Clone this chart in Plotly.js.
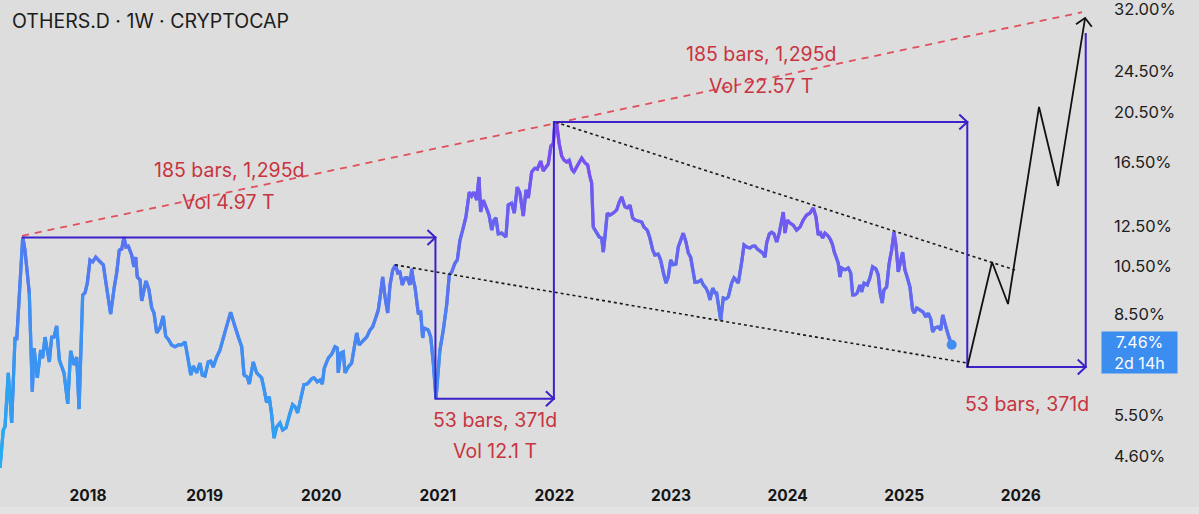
<!DOCTYPE html>
<html><head><meta charset="utf-8">
<script src="https://cdn.plot.ly/plotly-3.0.1.min.js"></script>
<style>html,body{margin:0;padding:0;background:#dddddd;}#chart{width:1199px;height:514px;}</style>
</head><body><div id="chart"></div>
<script>
// ---- OTHERS.D weekly closes (decimal year, %) ----
const dates = [
2017.245,2017.273,2017.288,2017.316,2017.345,2017.374,2017.388,2017.411,2017.440,2017.459,
2017.496,2017.522,2017.537,2017.565,2017.594,2017.611,2017.631,2017.668,2017.688,2017.708,
2017.731,2017.754,2017.794,2017.826,2017.851,2017.880,2017.903,2017.923,2017.954,2017.974,
2017.994,2018.017,2018.040,2018.066,2018.103,2018.131,2018.160,2018.194,2018.225,2018.246,
2018.268,2018.289,2018.308,2018.326,2018.345,2018.374,2018.394,2018.409,2018.422,2018.446,
2018.460,2018.480,2018.497,2018.523,2018.546,2018.566,2018.589,2018.617,2018.645,2018.666,
2018.688,2018.717,2018.746,2018.774,2018.803,2018.832,2018.860,2018.881,2018.903,2018.932,
2018.960,2018.980,2019.003,2019.031,2019.052,2019.074,2019.103,2019.132,2019.155,2019.189,
2019.223,2019.260,2019.289,2019.318,2019.338,2019.366,2019.383,2019.417,2019.446,2019.469,
2019.489,2019.509,2019.532,2019.554,2019.575,2019.595,2019.618,2019.646,2019.669,2019.698,
2019.726,2019.755,2019.775,2019.798,2019.826,2019.852,2019.880,2019.918,2019.938,2019.966,
2019.989,2020.009,2020.026,2020.061,2020.090,2020.118,2020.138,2020.146,2020.167,2020.189,
2020.204,2020.232,2020.261,2020.289,2020.304,2020.326,2020.361,2020.390,2020.418,2020.441,
2020.470,2020.489,2020.510,2020.527,2020.547,2020.570,2020.590,2020.613,2020.638,2020.656,
2020.675,2020.695,2020.718,2020.738,2020.761,2020.776,2020.789,2020.804,2020.832,2020.853,
2020.870,2020.881,2020.918,2020.939,2020.961,2020.984,2021.018,2021.047,2021.076,2021.098,
2021.119,2021.147,2021.167,2021.190,2021.213,2021.241,2021.270,2021.290,2021.310,2021.333,
2021.353,2021.367,2021.390,2021.419,2021.439,2021.462,2021.482,2021.499,2021.518,2021.547,
2021.584,2021.604,2021.633,2021.656,2021.681,2021.704,2021.733,2021.756,2021.776,2021.805,
2021.833,2021.853,2021.882,2021.904,2021.927,2021.947,2021.970,2021.990,2022.005,2022.019,
2022.041,2022.062,2022.082,2022.105,2022.127,2022.148,2022.167,2022.191,2022.213,2022.234,
2022.262,2022.285,2022.305,2022.319,2022.333,2022.362,2022.385,2022.405,2022.419,2022.434,
2022.453,2022.476,2022.505,2022.534,2022.556,2022.577,2022.605,2022.625,2022.648,2022.671,
2022.691,2022.719,2022.748,2022.768,2022.796,2022.819,2022.843,2022.862,2022.890,2022.911,
2022.933,2022.957,2022.976,2022.997,2023.019,2023.042,2023.062,2023.083,2023.105,2023.128,
2023.148,2023.168,2023.191,2023.205,2023.228,2023.257,2023.277,2023.300,2023.319,2023.334,
2023.357,2023.377,2023.391,2023.405,2023.426,2023.448,2023.471,2023.491,2023.520,2023.540,
2023.557,2023.577,2023.606,2023.626,2023.649,2023.677,2023.700,2023.720,2023.740,2023.763,
2023.786,2023.806,2023.820,2023.843,2023.863,2023.883,2023.906,2023.928,2023.963,2023.977,
2023.997,2024.020,2024.048,2024.077,2024.106,2024.134,2024.163,2024.192,2024.220,2024.243,
2024.263,2024.283,2024.300,2024.320,2024.348,2024.369,2024.386,2024.400,2024.420,2024.434,
2024.449,2024.463,2024.492,2024.520,2024.541,2024.558,2024.577,2024.597,2024.620,2024.635,
2024.655,2024.683,2024.706,2024.729,2024.757,2024.777,2024.792,2024.811,2024.826,2024.849,
2024.871,2024.892,2024.912,2024.929,2024.949,2024.963,2024.986,2025.006,2025.026,2025.049,
2025.072,2025.086,2025.106,2025.135,2025.163,2025.186,2025.206,2025.227,2025.244,2025.263,
2025.292,2025.313,2025.330,2025.349,2025.364,2025.384,2025.407];
const othersD = [
4.37,5.15,5.22,6.60,5.31,7.71,7.61,9.18,11.90,11.25,
9.34,6.08,7.35,6.46,7.29,7.04,7.71,6.92,7.71,7.71,
8.09,6.98,6.60,5.77,7.26,6.83,7.07,5.64,9.26,9.34,
9.75,10.77,10.68,10.91,10.68,10.55,9.54,8.52,9.58,10.19,
11.25,11.30,11.90,11.40,11.45,11.01,10.46,10.91,10.01,9.88,
9.02,9.46,9.84,9.46,8.75,8.56,7.85,8.02,8.45,7.74,
7.64,7.45,7.39,7.45,7.45,7.55,6.98,6.54,6.80,6.60,
6.89,6.54,6.51,6.92,6.95,6.77,7.07,7.29,7.61,8.06,
8.59,8.06,7.71,7.39,6.54,6.48,6.29,6.92,6.60,6.54,
6.46,6.18,5.80,5.95,5.50,4.97,5.22,5.31,5.15,5.20,
5.50,5.75,5.70,5.55,5.92,6.27,6.29,6.43,6.46,6.35,
6.40,6.29,6.74,7.04,7.16,7.39,7.35,6.60,7.19,7.23,
6.60,6.77,6.89,7.51,7.85,7.45,7.61,7.71,7.95,8.06,
8.41,8.67,9.34,10.01,9.18,8.56,9.67,10.32,10.55,10.19,
10.23,9.67,9.97,9.97,9.67,10.37,9.88,9.58,8.56,8.59,
7.68,8.02,7.95,7.71,6.89,5.90,7.29,7.95,8.87,10.10,
10.23,10.63,10.77,11.75,12.27,12.99,14.47,14.22,14.47,13.98,
15.45,13.27,13.98,13.39,13.10,12.27,12.82,12.93,12.06,12.11,
11.90,13.68,13.80,13.21,14.79,14.41,13.04,14.60,14.10,15.79,
16.06,15.99,16.56,15.86,16.13,16.34,17.69,17.85,19.62,19.45,
17.85,16.93,16.63,16.49,16.63,15.99,15.79,16.13,16.49,16.77,
16.42,16.28,15.45,15.06,12.43,12.11,11.90,11.85,11.15,11.90,
13.21,13.10,13.21,13.39,13.86,14.16,13.57,13.51,13.68,12.93,
12.82,12.76,12.71,12.43,12.27,11.85,11.25,11.01,11.06,10.77,
10.19,9.75,10.01,10.77,10.55,10.59,11.40,11.75,12.11,11.65,
11.11,10.91,10.23,9.79,9.79,9.88,9.67,9.54,9.34,9.06,
9.54,9.34,9.34,8.87,8.30,9.14,9.10,9.18,9.75,9.97,
9.88,9.75,10.68,11.50,11.40,11.35,11.45,11.45,11.30,11.20,
11.11,10.91,11.60,12.06,12.16,12.06,11.65,12.11,13.27,12.11,
12.82,12.65,12.54,12.27,12.43,12.82,13.10,13.21,13.51,12.99,
12.01,12.11,11.85,12.11,11.96,11.75,11.50,11.15,10.86,10.63,
10.01,10.41,10.32,10.41,10.19,9.26,9.26,9.34,9.67,9.38,
9.75,9.67,9.97,10.46,10.37,10.10,9.38,8.94,9.46,9.58,
10.63,11.25,12.16,11.50,10.23,10.63,11.15,10.32,10.01,9.58,
8.67,8.56,8.75,8.67,8.59,8.41,8.56,8.34,7.88,8.02,
8.06,7.95,8.49,8.19,7.95,7.68,7.46];

const yearTicks  = [2018,2019,2020,2021,2022,2023,2024,2025,2026];
const yearLabels = ['2018','2019','2020','2021','2022','2023','2024','2025','2026'];
const priceTicks  = [4.6,5.5,8.5,10.5,12.5,16.5,20.5,24.5,32];
const priceLabels = ['4.60%','5.50%','8.50%','10.50%','12.50%','16.50%','20.50%','24.50%','32.00%'];
const lastPrice = 7.46;
const countdown = '2d 14h';

// date-range measurements (TradingView drawings)
const rangeStart  = 2017.434;
const rangeDays   = [1295, 371, 1295, 371];
const rangeBars   = [185, 53, 185, 53];
const rangeVol    = ['Vol 4.97 T', 'Vol 12.1 T', 'Vol 22.57 T', ''];
const rangeLevels = [11.88, 5.90, 19.62, 6.77];
const rangeTop    = 28.87;

// trend lines
const trendX = [2017.434, 2026.525], trendY = [11.97, 31.60];
const upperX = [2022.010, 2025.950], upperY = [19.60, 10.32];
const lowerX = [2020.633, 2025.538], lowerY = [10.55, 6.89];
// hand-drawn projection
const projX = [2025.541, 2025.753, 2025.890, 2026.156, 2026.319, 2026.551];
const projY = [6.77, 10.68, 8.90, 20.94, 14.86, 30.81];

// ---- layout geometry ----
const W = 1199, H = 514, ML = 0, MR = 99, MT = 0, MB = 39;
const PW = W - ML - MR, PH = H - MT - MB;
const XR = [2017.245, 2026.679];
const YR = [Math.log10(4.236), Math.log10(33.32)];
function toPx(t, v){ return [(t-XR[0])/(XR[1]-XR[0])*PW, PH-(Math.log10(v)-YR[0])/(YR[1]-YR[0])*PH]; }
function fromPx(p){ return [XR[0]+p[0]/PW*(XR[1]-XR[0]), Math.pow(10, YR[0]+(PH-p[1])/PH*(YR[1]-YR[0]))]; }
function chevron(tipT, tipV, fromT, fromV, L, Wd){
  const a = toPx(tipT, tipV), b = toPx(fromT, fromV);
  let dx = a[0]-b[0], dy = a[1]-b[1]; const n = Math.hypot(dx, dy); dx/=n; dy/=n;
  const nx = -dy, ny = dx;
  const q1 = fromPx([a[0]-L*dx+Wd*nx, a[1]-L*dy+Wd*ny]);
  const q2 = fromPx([a[0]-L*dx-Wd*nx, a[1]-L*dy-Wd*ny]);
  return {x:[q1[0], tipT, q2[0], null], y:[q1[1], tipV, q2[1], null]};
}

const traces = [];
// gradient line: underlay + coloured chunks
const lnMin = Math.log(4.4), lnMax = Math.log(19.6);
const tMin = dates[0], tMax = dates[dates.length-1];
function colorAt(t, v){
  const fv = (Math.log(v)-lnMin)/(lnMax-lnMin), ft = (t-tMin)/(tMax-tMin);
  const f = Math.min(1, Math.max(0, 0.75*fv + 0.25*ft));
  const c0 = [30,180,242], c1 = [145,55,240];
  return 'rgb(' + c0.map((c,i)=>Math.round(c+(c1[i]-c)*f)).join(',') + ')';
}
traces.push({type:'scatter', mode:'lines', x:dates, y:othersD, line:{color:'rgb(80,125,240)', width:3.2}, hoverinfo:'skip', showlegend:false});
const step = 2;
for (let i = 0; i < dates.length-1; i += step){
  const j = Math.min(i+step, dates.length-1);
  const xs = dates.slice(i, j+1), ys = othersD.slice(i, j+1);
  const mt = xs.reduce((a,b)=>a+b,0)/xs.length;
  const mv = Math.exp(ys.reduce((a,b)=>a+Math.log(b),0)/ys.length);
  traces.push({type:'scatter', mode:'lines', x:xs, y:ys, line:{color:colorAt(mt, mv), width:3.2}, hoverinfo:'skip', showlegend:false});
}
// last price dot
traces.push({type:'scatter', mode:'markers', x:[dates[dates.length-1]], y:[othersD[othersD.length-1]],
  marker:{color:'#3f8ef0', size:10}, hoverinfo:'skip', showlegend:false, cliponaxis:false});

// red dashed trend
traces.push({type:'scatter', mode:'lines', x:trendX, y:trendY, line:{color:'#e0505c', width:1.8, dash:'7px,6px'}, hoverinfo:'skip', showlegend:false});
// dotted channel
traces.push({type:'scatter', mode:'lines', x:upperX.concat([null], lowerX), y:upperY.concat([null], lowerY),
  line:{color:'#1a1a1a', width:1.6, dash:'dot'}, hoverinfo:'skip', showlegend:false});

// range drawings
const rs = [rangeStart];
rangeDays.forEach(d => rs.push(rs[rs.length-1] + d/365.25));
const rx = [rs[0]], ry = [rangeLevels[0]];
for (let k = 0; k < 4; k++){
  rx.push(rs[k+1]); ry.push(rangeLevels[k]);
  rx.push(rs[k+1]); ry.push(k < 3 ? rangeLevels[k+1] : rangeTop);
}
const chx = [], chy = [];
for (let k = 0; k < 4; k++){
  const c = chevron(rs[k+1], rangeLevels[k], rs[k], rangeLevels[k], 8, 7.5);
  chx.push(...c.x); chy.push(...c.y);
}
traces.push({type:'scatter', mode:'lines', x:rx, y:ry, line:{color:'#3a22c8', width:2}, hoverinfo:'skip', showlegend:false});
traces.push({type:'scatter', mode:'lines', x:chx, y:chy, line:{color:'#3a22c8', width:2}, hoverinfo:'skip', showlegend:false});

// projection
traces.push({type:'scatter', mode:'lines', x:projX, y:projY, line:{color:'#111111', width:1.8}, hoverinfo:'skip', showlegend:false});
const pc = chevron(projX[5], projY[5], projX[4], projY[4], 7.5, 8);
traces.push({type:'scatter', mode:'lines', x:pc.x, y:pc.y, line:{color:'#111111', width:1.8}, hoverinfo:'skip', showlegend:false, cliponaxis:false});

// annotations
const red = '#c8343f';
const fontFam = 'Inter, Roboto, sans-serif';
const ann = [];
const labelShift = [[68, 36], [-21, -52], [68, 36], [-37, 0]];
for (let k = 0; k < 4; k++){
  const cx = (rs[k] + rs[k+1]) / 2, ly = Math.log10(rangeLevels[k]);
  ann.push({x:cx, y:ly, xref:'x', yref:'y', yshift:labelShift[k][0], showarrow:false,
    text: rangeBars[k] + ' bars, ' + rangeDays[k].toLocaleString('en-US') + 'd',
    font:{family:fontFam, size:19.5, color:red}, xanchor:'center', yanchor:'middle'});
  if (rangeVol[k]) ann.push({x:cx, y:ly, xref:'x', yref:'y', yshift:labelShift[k][1], showarrow:false,
    text: rangeVol[k], font:{family:fontFam, size:19.5, color:red}, xanchor:'center', yanchor:'middle'});
}
ann.push({xref:'paper', x:1 + 1/PW, xanchor:'left', yref:'y', y:Math.log10(lastPrice), yanchor:'middle', yshift:-8,
  showarrow:false, text: lastPrice.toFixed(2) + '%<br>' + countdown, align:'center',
  font:{family:fontFam, size:16, color:'#ffffff'}, bgcolor:'#3b8df0', borderpad:3, width:69, height:35});

const layout = {
  width:W, height:H, margin:{l:ML, r:MR, t:MT, b:MB, pad:0},
  paper_bgcolor:'#dddddd', plot_bgcolor:'#dddddd',
  title:{text:'OTHERS.D · 1W · CRYPTOCAP', xref:'container', yref:'container', x:12/W, xanchor:'left',
    y:1-21/H, yanchor:'middle', font:{family:fontFam, size:19.5, color:'#1c1c1c'}},
  xaxis:{range:XR, showgrid:false, zeroline:false, showline:false, ticks:'', tickvals:yearTicks, ticktext:yearLabels,
    tickfont:{family:fontFam, size:15.5, color:'#151515', weight:700}, ticklabelstandoff:9, fixedrange:true},
  yaxis:{type:'log', range:YR, side:'right', showgrid:false, zeroline:false, showline:false, ticks:'',
    tickvals:priceTicks, ticktext:priceLabels, tickfont:{family:fontFam, size:16.5, color:'#1c1c1c'},
    ticklabelstandoff:13, ticklabeloverflow:'allow', fixedrange:true},
  annotations:ann,
  shapes:[{type:'rect', xref:'paper', yref:'paper', x0:0, x1:W/PW, y0:-(H-PH)/PH, y1:-(507-PH)/PH,
    fillcolor:'#e3e3e3', line:{width:0}, layer:'below'}],
  showlegend:false
};
Plotly.newPlot('chart', traces, layout, {staticPlot:true, displayModeBar:false});
</script></body></html>
